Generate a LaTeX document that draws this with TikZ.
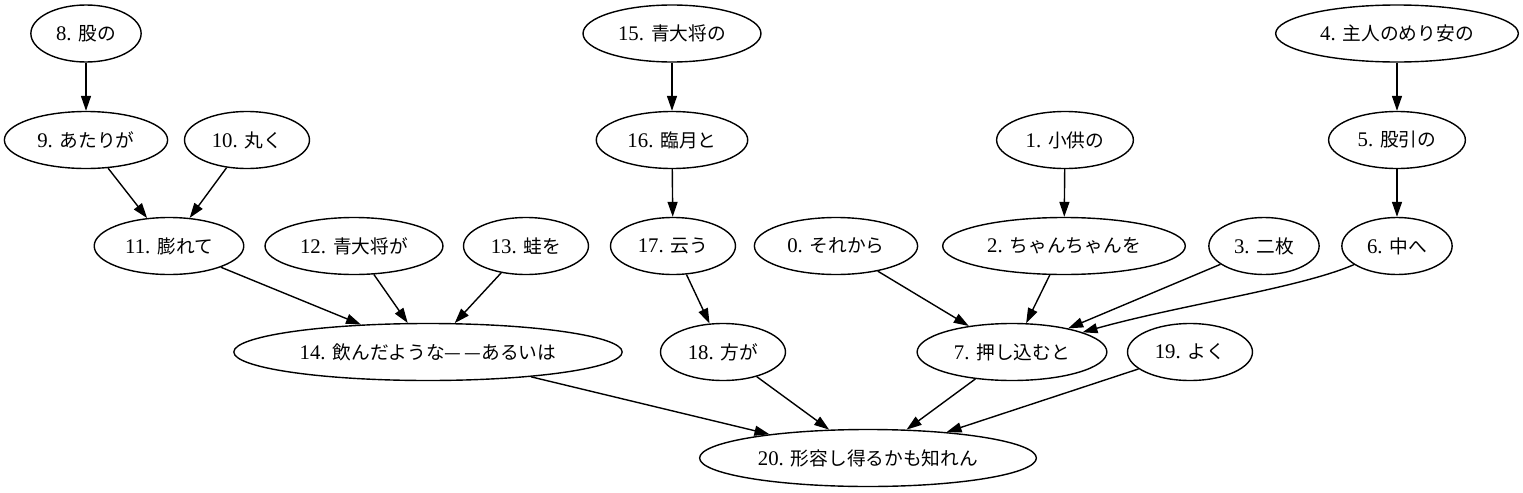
\documentclass[tikz,border=0pt]{standalone}
\usepackage{fontspec}
\setmainfont{Liberation Serif}
\newfontfamily\cjk[Scale=0.9]{Noto Sans CJK JP}
\usetikzlibrary{shapes.geometric,arrows.meta}
\tikzset{
  word/.style={draw, ellipse, line width=0.7pt, inner xsep=4.5pt, inner ysep=1pt,
    minimum height=28.5pt, font=\fontsize{10.4pt}{12pt}\selectfont},
  dep/.style={-{Triangle[length=7.5pt,width=5pt]}, line width=0.7pt}
}
\begin{document}
\begin{tikzpicture}[x=0.5pt, y=-0.5pt]
  \useasboundingbox (0,0) rectangle (1523,493);

  % top row
  \node[word] (n8) at (86, 33.5) {8. {\cjk 股の}};
  \node[word] (n15) at (672, 33.5) {15. {\cjk 青大将の}};
  \node[word] (n4) at (1397, 33.5) {4. {\cjk 主人のめり安の}};

  % second row
  \node[word] (n9) at (86, 140) {9. {\cjk あたりが}};
  \node[word] (n10) at (247, 140) {10. {\cjk 丸く}};
  \node[word] (n16) at (672, 140) {16. {\cjk 臨月と}};
  \node[word] (n1) at (1065, 140) {1. {\cjk 小供の}};
  \node[word] (n5) at (1397, 140) {5. {\cjk 股引の}};

  % third row
  \node[word] (n11) at (169, 246) {11. {\cjk 膨れて}};
  \node[word] (n12) at (354, 246) {12. {\cjk 青大将が}};
  \node[word] (n13) at (526, 246) {13. {\cjk 蛙を}};
  \node[word] (n17) at (673, 246) {17. {\cjk 云う}};
  \node[word] (n0) at (836, 246) {0. {\cjk それから}};
  \node[word] (n2) at (1064, 246) {2. {\cjk ちゃんちゃんを}};
  \node[word] (n3) at (1264, 246) {3. {\cjk 二枚}};
  \node[word] (n6) at (1397, 246) {6. {\cjk 中へ}};

  % fourth row
  \node[word] (n14) at (428, 352) {14. {\cjk 飲んだような—\kern1.5pt—あるいは}};
  \node[word] (n18) at (723, 352) {18. {\cjk 方が}};
  \node[word] (n7) at (1012, 352) {7. {\cjk 押し込むと}};
  \node[word] (n19) at (1190, 352) {19. {\cjk よく}};

  % root
  \node[word] (n20) at (868, 458) {20. {\cjk 形容し得るかも知れん}};

  % dependencies
  \draw[dep] (n8) -- (n9);
  \draw[dep] (n9) -- (n11);
  \draw[dep] (n10) -- (n11);
  \draw[dep] (n15) -- (n16);
  \draw[dep] (n16) -- (n17);
  \draw[dep] (n4) -- (n5);
  \draw[dep] (n5) -- (n6);
  \draw[dep] (n1) -- (n2);
  \draw[dep] (n11) -- (n14);
  \draw[dep] (n12) -- (n14);
  \draw[dep] (n13) -- (n14);
  \draw[dep] (n17) -- (n18);
  \draw[dep] (n0) -- (n7);
  \draw[dep] (n2) -- (n7);
  \draw[dep] (n3) -- (n7);
  \draw[dep] (n6) .. controls (1300, 288) and (1180, 305) .. (n7);
  \draw[dep] (n14) -- (n20);
  \draw[dep] (n18) -- (n20);
  \draw[dep] (n7) -- (n20);
  \draw[dep] (n19) -- (n20);

\end{tikzpicture}
\end{document}
